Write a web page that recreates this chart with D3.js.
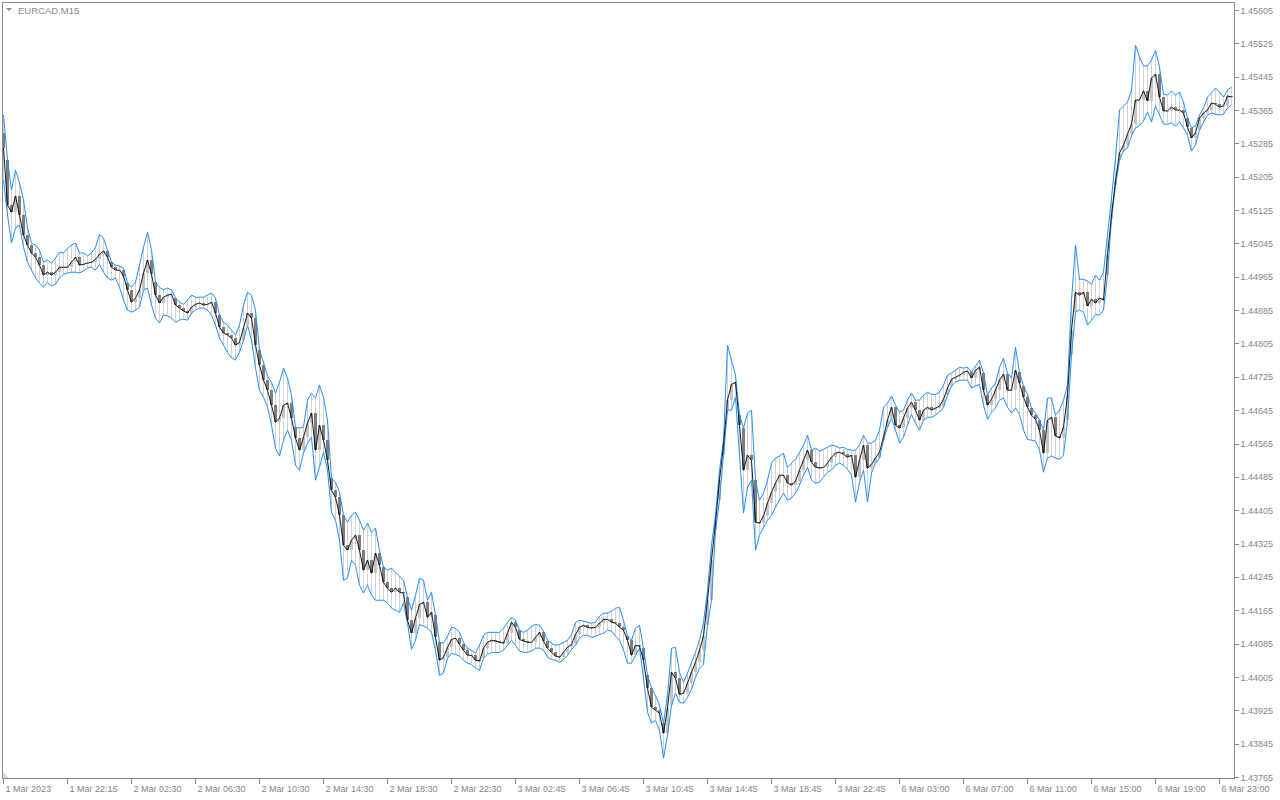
<!DOCTYPE html>
<html><head><meta charset="utf-8">
<script src="https://cdn.jsdelivr.net/npm/d3@7"></script>
<style>body{margin:0;background:#fff;overflow:hidden} text{font-family:"Liberation Sans",Arial,sans-serif}</style>
</head><body><svg id="chart" width="1280" height="800"></svg>
<script>
const symbolTitle = "EURCAD,M15";
const timeLabels = ["1 Mar 2023","1 Mar 22:15","2 Mar 02:30","2 Mar 06:30","2 Mar 10:30","2 Mar 14:30","2 Mar 18:30","2 Mar 22:30","3 Mar 02:45","3 Mar 06:45","3 Mar 10:45","3 Mar 14:45","3 Mar 18:45","3 Mar 22:45","6 Mar 03:00","6 Mar 07:00","6 Mar 11:00","6 Mar 15:00","6 Mar 19:00","6 Mar 23:00"];
const barsPerLabel = 16;
const priceTicks = [1.43765,1.43845,1.43925,1.44005,1.44085,1.44165,1.44245,1.44325,1.44405,1.44485,1.44565,1.44645,1.44725,1.44805,1.44885,1.44965,1.45045,1.45125,1.45205,1.45285,1.45365,1.45445,1.45525,1.45605];
const firstOpen = 1.45310;
const close = [
1.45274,1.45137,1.45120,1.45159,1.45113,1.45065,1.45041,1.45022,1.45012,1.44993,
1.44969,1.44976,1.44969,1.44976,1.44988,1.44988,1.44988,1.45000,1.45012,1.44993,
1.44995,1.44998,1.45000,1.45007,1.45019,1.45027,1.45012,1.44988,1.44981,1.44981,
1.44967,1.44933,1.44904,1.44914,1.44933,1.44974,1.45005,1.44971,1.44921,1.44902,
1.44916,1.44921,1.44923,1.44897,1.44890,1.44883,1.44878,1.44892,1.44899,1.44902,
1.44897,1.44899,1.44904,1.44878,1.44844,1.44830,1.44825,1.44818,1.44801,1.44808,
1.44842,1.44878,1.44866,1.44801,1.44753,1.44717,1.44693,1.44657,1.44616,1.44626,
1.44657,1.44662,1.44626,1.44578,1.44549,1.44580,1.44614,1.44638,1.44549,1.44609,
1.44573,1.44525,1.44453,1.44436,1.44393,1.44321,1.44309,1.44333,1.44345,1.44309,
1.44261,1.44285,1.44254,1.44302,1.44273,1.44232,1.44218,1.44208,1.44218,1.44208,
1.44206,1.44141,1.44110,1.44146,1.44179,1.44184,1.44148,1.44160,1.44100,1.44045,
1.44052,1.44076,1.44095,1.44098,1.44083,1.44069,1.44057,1.44057,1.44045,1.44043,
1.44074,1.44088,1.44093,1.44091,1.44088,1.44086,1.44110,1.44136,1.44124,1.44095,
1.44091,1.44088,1.44088,1.44100,1.44112,1.44091,1.44074,1.44064,1.44055,1.44052,
1.44064,1.44076,1.44083,1.44107,1.44124,1.44129,1.44124,1.44122,1.44124,1.44134,
1.44143,1.44143,1.44136,1.44134,1.44124,1.44117,1.44093,1.44057,1.44081,1.44079,
1.44045,1.43978,1.43932,1.43925,1.43918,1.43870,1.43930,1.44016,1.44002,1.43963,
1.43966,1.43990,1.44016,1.44040,1.44069,1.44103,1.44189,1.44285,1.44374,1.44477,
1.44561,1.44669,1.44707,1.44712,1.44609,1.44501,1.44537,1.44525,1.44376,1.44374,
1.44391,1.44422,1.44448,1.44470,1.44489,1.44489,1.44470,1.44465,1.44475,1.44501,
1.44525,1.44549,1.44520,1.44508,1.44506,1.44508,1.44518,1.44532,1.44542,1.44544,
1.44539,1.44532,1.44537,1.44484,1.44525,1.44561,1.44506,1.44515,1.44530,1.44544,
1.44580,1.44621,1.44652,1.44609,1.44602,1.44626,1.44650,1.44664,1.44645,1.44621,
1.44645,1.44652,1.44645,1.44650,1.44655,1.44671,1.44698,1.44719,1.44724,1.44729,
1.44736,1.44739,1.44722,1.44741,1.44748,1.44693,1.44657,1.44671,1.44693,1.44717,
1.44731,1.44693,1.44693,1.44741,1.44710,1.44676,1.44652,1.44633,1.44623,1.44597,
1.44542,1.44621,1.44628,1.44583,1.44578,1.44604,1.44681,1.44837,1.44928,1.44921,
1.44928,1.44895,1.44911,1.44902,1.44914,1.44909,1.45017,1.45113,1.45195,1.45262,
1.45281,1.45307,1.45331,1.45389,1.45389,1.45411,1.45387,1.45442,1.45451,1.45396,
1.45363,1.45363,1.45372,1.45365,1.45365,1.45358,1.45324,1.45298,1.45310,1.45346,
1.45358,1.45365,1.45382,1.45379,1.45372,1.45375,1.45399,1.45396];
const high = [
1.45353,1.45245,1.45173,1.45221,1.45190,1.45149,1.45082,1.45046,1.45041,1.45029,
1.45000,1.45005,1.44998,1.45010,1.45024,1.45022,1.45034,1.45041,1.45046,1.45022,
1.45022,1.45015,1.45022,1.45036,1.45067,1.45058,1.45029,1.45000,1.44993,1.44991,
1.44986,1.44950,1.44940,1.44952,1.44993,1.45036,1.45072,1.45029,1.44952,1.44940,
1.44933,1.44938,1.44933,1.44914,1.44904,1.44899,1.44909,1.44921,1.44916,1.44916,
1.44916,1.44921,1.44926,1.44914,1.44873,1.44856,1.44849,1.44837,1.44825,1.44849,
1.44897,1.44928,1.44921,1.44885,1.44789,1.44760,1.44727,1.44712,1.44686,1.44712,
1.44746,1.44722,1.44681,1.44604,1.44602,1.44604,1.44669,1.44686,1.44674,1.44705,
1.44676,1.44621,1.44482,1.44472,1.44448,1.44393,1.44376,1.44393,1.44400,1.44381,
1.44357,1.44374,1.44352,1.44362,1.44309,1.44268,1.44261,1.44266,1.44256,1.44247,
1.44237,1.44196,1.44165,1.44201,1.44242,1.44237,1.44189,1.44208,1.44153,1.44088,
1.44086,1.44103,1.44124,1.44122,1.44112,1.44088,1.44074,1.44069,1.44062,1.44081,
1.44105,1.44112,1.44112,1.44112,1.44112,1.44122,1.44136,1.44148,1.44141,1.44117,
1.44112,1.44117,1.44127,1.44131,1.44129,1.44115,1.44093,1.44086,1.44081,1.44083,
1.44088,1.44093,1.44107,1.44136,1.44141,1.44139,1.44136,1.44134,1.44136,1.44151,
1.44158,1.44158,1.44163,1.44170,1.44172,1.44141,1.44103,1.44093,1.44122,1.44129,
1.44074,1.44009,1.43978,1.43961,1.43937,1.43894,1.43961,1.44074,1.44076,1.44016,
1.43992,1.44014,1.44040,1.44064,1.44093,1.44136,1.44213,1.44321,1.44393,1.44501,
1.44573,1.44801,1.44765,1.44729,1.44633,1.44602,1.44638,1.44645,1.44477,1.44429,
1.44446,1.44477,1.44518,1.44530,1.44535,1.44542,1.44508,1.44518,1.44527,1.44544,
1.44561,1.44585,1.44549,1.44554,1.44547,1.44551,1.44556,1.44561,1.44559,1.44554,
1.44556,1.44551,1.44549,1.44549,1.44561,1.44585,1.44566,1.44566,1.44573,1.44597,
1.44652,1.44662,1.44679,1.44657,1.44640,1.44645,1.44669,1.44686,1.44669,1.44669,
1.44681,1.44688,1.44683,1.44683,1.44688,1.44705,1.44729,1.44734,1.44741,1.44748,
1.44746,1.44748,1.44736,1.44751,1.44765,1.44734,1.44681,1.44698,1.44710,1.44748,
1.44770,1.44734,1.44722,1.44796,1.44736,1.44703,1.44683,1.44650,1.44638,1.44621,
1.44597,1.44674,1.44674,1.44633,1.44645,1.44669,1.44705,1.44909,1.45041,1.44959,
1.44959,1.44955,1.44947,1.44969,1.44957,1.44976,1.45065,1.45154,1.45250,1.45365,
1.45375,1.45384,1.45413,1.45521,1.45492,1.45471,1.45471,1.45485,1.45509,1.45468,
1.45403,1.45401,1.45411,1.45401,1.45408,1.45384,1.45346,1.45322,1.45327,1.45353,
1.45370,1.45396,1.45406,1.45418,1.45408,1.45396,1.45413,1.45420];
const low = [
1.45197,1.45113,1.45046,1.45082,1.45089,1.45036,1.45000,1.44981,1.44962,1.44950,
1.44940,1.44952,1.44943,1.44947,1.44962,1.44971,1.44974,1.44976,1.44976,1.44974,
1.44979,1.44986,1.44988,1.44981,1.44995,1.44976,1.44962,1.44957,1.44962,1.44940,
1.44909,1.44885,1.44880,1.44885,1.44892,1.44933,1.44938,1.44897,1.44866,1.44854,
1.44873,1.44871,1.44866,1.44856,1.44861,1.44863,1.44861,1.44878,1.44885,1.44890,
1.44890,1.44885,1.44873,1.44849,1.44818,1.44801,1.44784,1.44770,1.44765,1.44784,
1.44813,1.44849,1.44813,1.44746,1.44693,1.44676,1.44652,1.44609,1.44554,1.44535,
1.44573,1.44597,1.44573,1.44513,1.44501,1.44542,1.44566,1.44580,1.44477,1.44508,
1.44544,1.44501,1.44400,1.44381,1.44333,1.44237,1.44242,1.44285,1.44273,1.44225,
1.44206,1.44225,1.44201,1.44189,1.44189,1.44189,1.44182,1.44170,1.44165,1.44160,
1.44182,1.44134,1.44071,1.44093,1.44131,1.44127,1.44122,1.44112,1.44069,1.44009,
1.44014,1.44050,1.44062,1.44059,1.44055,1.44045,1.44038,1.44035,1.44026,1.44021,
1.44050,1.44059,1.44064,1.44064,1.44064,1.44069,1.44081,1.44093,1.44081,1.44067,
1.44064,1.44064,1.44067,1.44074,1.44074,1.44069,1.44052,1.44047,1.44045,1.44040,
1.44047,1.44057,1.44071,1.44081,1.44098,1.44105,1.44105,1.44100,1.44103,1.44107,
1.44110,1.44117,1.44115,1.44103,1.44093,1.44069,1.44038,1.44038,1.44057,1.44074,
1.44002,1.43920,1.43894,1.43901,1.43877,1.43810,1.43865,1.43937,1.43966,1.43944,
1.43942,1.43956,1.43975,1.44004,1.44026,1.44035,1.44129,1.44189,1.44357,1.44429,
1.44537,1.44645,1.44645,1.44676,1.44537,1.44398,1.44460,1.44477,1.44309,1.44345,
1.44364,1.44381,1.44393,1.44412,1.44429,1.44446,1.44429,1.44434,1.44446,1.44465,
1.44489,1.44508,1.44477,1.44470,1.44472,1.44484,1.44496,1.44501,1.44513,1.44518,
1.44513,1.44503,1.44489,1.44424,1.44472,1.44501,1.44424,1.44494,1.44518,1.44530,
1.44573,1.44604,1.44626,1.44597,1.44566,1.44580,1.44609,1.44635,1.44614,1.44597,
1.44621,1.44628,1.44628,1.44633,1.44640,1.44652,1.44681,1.44703,1.44712,1.44717,
1.44717,1.44717,1.44698,1.44703,1.44707,1.44657,1.44623,1.44640,1.44650,1.44669,
1.44674,1.44652,1.44638,1.44650,1.44635,1.44597,1.44575,1.44573,1.44571,1.44549,
1.44496,1.44530,1.44535,1.44530,1.44527,1.44537,1.44621,1.44777,1.44880,1.44885,
1.44880,1.44849,1.44861,1.44875,1.44873,1.44885,1.44969,1.45103,1.45185,1.45245,
1.45267,1.45274,1.45303,1.45322,1.45327,1.45339,1.45360,1.45336,1.45375,1.45353,
1.45331,1.45331,1.45334,1.45327,1.45336,1.45322,1.45305,1.45267,1.45281,1.45317,
1.45336,1.45353,1.45358,1.45355,1.45353,1.45355,1.45370,1.45377];

const bars = close.map((c, i) => ({
  i, close: c, high: high[i], low: low[i],
  open: i === 0 ? firstOpen : close[i - 1]
}));

const svg = d3.select("#chart");
const W = 1280, H = 800;
const plot = {left: 2, top: 2, right: 1234, bottom: 778};
const axisColor = "#8a8a8a", textColor = "#7e8690";

svg.append("rect").attr("width", W).attr("height", H).attr("fill", "#ffffff");

const x = d3.scaleLinear().domain([0, close.length - 1]).range([3, 1231]);
const y = d3.scaleLinear().domain([priceTicks[0], priceTicks[priceTicks.length - 1]]).range([777, 10]);

const g = svg.append("g");
const px = i => Math.round(x(i));

// wicks
g.append("g").selectAll("line").data(bars).join("line")
  .attr("x1", d => px(d.i) + 0.5).attr("x2", d => px(d.i) + 0.5)
  .attr("y1", d => y(d.high)).attr("y2", d => y(d.low))
  .attr("stroke", "#d2d2d2").attr("stroke-width", 1).attr("shape-rendering", "crispEdges");

// bodies
g.append("g").selectAll("rect").data(bars).join("rect")
  .attr("x", d => px(d.i) - 1).attr("width", 3)
  .attr("y", d => {
    const o = Math.min(Math.max(d.open, d.low), d.high);
    return Math.round(y(Math.max(o, d.close)));
  })
  .attr("height", d => {
    const o = Math.min(Math.max(d.open, d.low), d.high);
    return Math.max(1, Math.round(Math.abs(y(o) - y(d.close))));
  })
  .attr("fill", d => d.close >= d.open ? "#c4c4c4" : "#7d7d7d")
  .attr("shape-rendering", "crispEdges");

const lineGen = acc => d3.line().x(d => px(d.i) + 0.5).y(d => y(acc(d)));
g.append("path").datum(bars).attr("d", lineGen(d => d.high))
  .attr("fill", "none").attr("stroke", "#1e90ff").attr("stroke-width", 1);
g.append("path").datum(bars).attr("d", lineGen(d => d.low))
  .attr("fill", "none").attr("stroke", "#1e90ff").attr("stroke-width", 1);
g.append("path").datum(bars).attr("d", lineGen(d => d.close))
  .attr("fill", "none").attr("stroke", "#000000").attr("stroke-width", 0.9);

// frame
svg.append("rect")
  .attr("x", plot.left + 0.5).attr("y", plot.top + 0.5)
  .attr("width", plot.right - plot.left).attr("height", plot.bottom - plot.top)
  .attr("fill", "none").attr("stroke", axisColor).attr("shape-rendering", "crispEdges");

// right price axis
const yAxis = d3.axisRight(y).tickValues(priceTicks).tickSize(4).tickPadding(2).tickFormat(d3.format(".5f"));
const ya = svg.append("g").attr("transform", `translate(${plot.right + 0.5},0)`).call(yAxis);
ya.select(".domain").remove();
ya.selectAll(".tick line").attr("stroke", axisColor).attr("shape-rendering", "crispEdges");
ya.selectAll(".tick text").attr("fill", textColor).attr("font-size", "9px")
  .attr("font-family", "'Liberation Sans', Arial, sans-serif").attr("dy", "0.34em");

// bottom time axis
const tickIdx = timeLabels.map((_, k) => k * barsPerLabel);
const xAxis = d3.axisBottom(x).tickValues(tickIdx).tickSize(5).tickPadding(3)
  .tickFormat((d, k) => timeLabels[k]);
const xa = svg.append("g").attr("transform", `translate(0,${plot.bottom + 0.5})`).call(xAxis);
xa.select(".domain").remove();
xa.selectAll(".tick").attr("transform", d => `translate(${px(d) + 0.5},0)`);
xa.selectAll(".tick line").attr("stroke", axisColor).attr("shape-rendering", "crispEdges");
xa.selectAll(".tick text").attr("fill", textColor).attr("font-size", "9px")
  .attr("font-family", "'Liberation Sans', Arial, sans-serif")
  .attr("text-anchor", "start").attr("x", 2).attr("y", 7);

// corner marker
svg.append("path").attr("d", "M3,772 L3,778 L9,778 Z").attr("fill", "#d8d8d8");

// title
svg.append("path").attr("d", "M6,8 L12,8 L9,11 Z").attr("fill", "#8a8a8a");
svg.append("text").attr("x", 18).attr("y", 14).text(symbolTitle)
  .attr("fill", "#8a8a8a").attr("font-size", "9.5px");
</script>
</body></html>
